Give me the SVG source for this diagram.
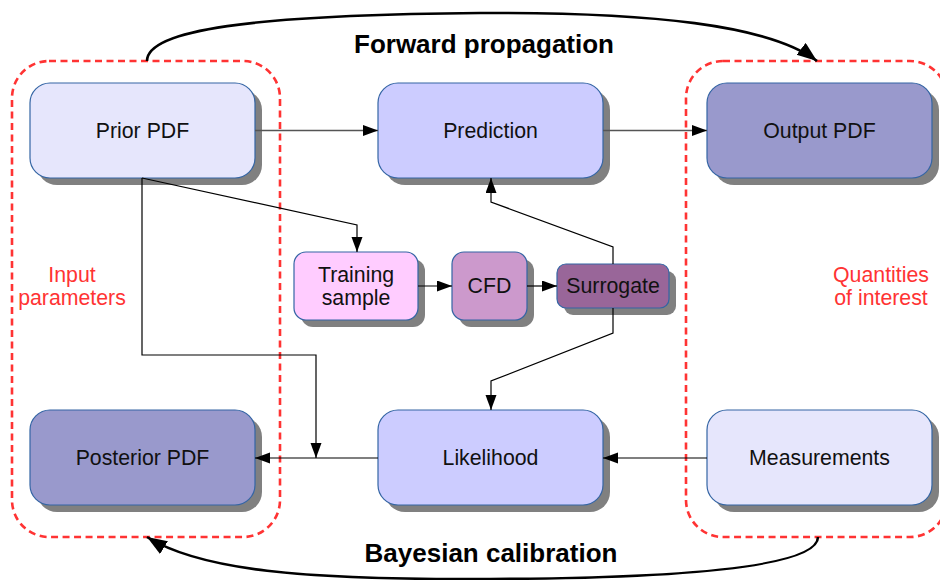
<svg xmlns="http://www.w3.org/2000/svg" width="940" height="580" viewBox="0 0 940 580">
<defs>
<marker id="ah" markerUnits="userSpaceOnUse" markerWidth="16" markerHeight="12" refX="15" refY="5.5" orient="auto">
<path d="M0,0 L15,5.5 L0,11 z" fill="#000"/>
</marker>
<marker id="big" markerUnits="userSpaceOnUse" markerWidth="22" markerHeight="16" refX="20" refY="7.5" orient="auto">
<path d="M0,0 L20,7.5 L0,15 z" fill="#000"/>
</marker>
</defs>
<style>
.box{stroke:#3465a4;stroke-width:1.2}
.sh{fill:#808080}
.t{font-family:"Liberation Sans",Arial,sans-serif;font-size:21.3px;fill:#111;text-anchor:middle}
.r{font-family:"Liberation Sans",Arial,sans-serif;font-size:21.3px;fill:#ff3333;text-anchor:middle}
.h{font-family:"Liberation Sans",Arial,sans-serif;font-size:26px;font-weight:bold;fill:#000;text-anchor:middle}
.dash{fill:none;stroke:#ff3333;stroke-width:2.6;stroke-dasharray:7 4.5}
.c{fill:none;stroke:#000;stroke-width:1.2}
.g{fill:none;stroke:#555;stroke-width:1.6}
.arc{fill:none;stroke:#000;stroke-width:2.6}
</style>
<g id="groups">
<rect class="dash" x="12" y="61" width="268" height="476" rx="37"/>
<rect class="dash" x="686" y="61" width="261" height="476" rx="37"/>
<text class="r" x="72" y="282">Input</text>
<text class="r" x="72" y="305">parameters</text>
<text class="r" x="881" y="282">Quantities</text>
<text class="r" x="881" y="305">of interest</text>
</g>
<g id="prior">
<rect class="sh" x="37" y="90" width="225" height="95" rx="20"/>
<rect class="box" x="30" y="83" width="225" height="95" rx="20" fill="#e6e6fc"/>
<text class="t" x="142.5" y="138">Prior PDF</text>
</g>
<g id="prediction">
<rect class="sh" x="385" y="90" width="225" height="95" rx="20"/>
<rect class="box" x="378" y="83" width="225" height="95" rx="20" fill="#ccccff"/>
<text class="t" x="490.5" y="138">Prediction</text>
</g>
<g id="output">
<rect class="sh" x="714" y="90" width="225" height="95" rx="20"/>
<rect class="box" x="707" y="83" width="225" height="95" rx="20" fill="#9999cc"/>
<text class="t" x="819.5" y="138">Output PDF</text>
</g>
<g id="training">
<rect class="sh" x="301" y="259" width="124" height="68" rx="12"/>
<rect class="box" x="294" y="252" width="124" height="68" rx="12" fill="#ffccff"/>
<text class="t" x="356" y="282">Training</text>
<text class="t" x="356" y="305">sample</text>
</g>
<g id="cfd">
<rect class="sh" x="459" y="259" width="75" height="68" rx="12"/>
<rect class="box" x="452" y="252" width="75" height="68" rx="12" fill="#cc99cc"/>
<text class="t" x="489.5" y="293">CFD</text>
</g>
<g id="surrogate">
<rect class="sh" x="564" y="271" width="112" height="44" rx="9"/>
<rect class="box" x="557" y="264" width="112" height="44" rx="9" fill="#996699"/>
<text class="t" x="613" y="293">Surrogate</text>
</g>
<g id="posterior">
<rect class="sh" x="37" y="417" width="225" height="95" rx="20"/>
<rect class="box" x="30" y="410" width="225" height="95" rx="20" fill="#9999cc"/>
<text class="t" x="142.5" y="465">Posterior PDF</text>
</g>
<g id="likelihood">
<rect class="sh" x="385" y="417" width="225" height="95" rx="20"/>
<rect class="box" x="378" y="410" width="225" height="95" rx="20" fill="#ccccff"/>
<text class="t" x="490.5" y="465">Likelihood</text>
</g>
<g id="measurements">
<rect class="sh" x="714" y="417" width="225" height="95" rx="20"/>
<rect class="box" x="707" y="410" width="225" height="95" rx="20" fill="#e6e6fc"/>
<text class="t" x="819.5" y="465">Measurements</text>
</g>
<g id="connectors">
<line class="g" x1="255" y1="130.5" x2="378" y2="130.5" marker-end="url(#ah)"/>
<line class="g" x1="603" y1="130.5" x2="707" y2="130.5" marker-end="url(#ah)"/>
<polyline class="c" points="142,178 357,225 357,252" marker-end="url(#ah)"/>
<polyline class="c" points="142,178 142,355 316,355 316,458" marker-end="url(#ah)"/>
<line class="c" x1="418" y1="286" x2="452" y2="286" marker-end="url(#ah)"/>
<line class="c" x1="527" y1="286" x2="557" y2="286" marker-end="url(#ah)"/>
<polyline class="c" points="613,264 613,247 491,202 491,178" marker-end="url(#ah)"/>
<polyline class="c" points="613,308 613,333 491,381 491,410" marker-end="url(#ah)"/>
<line class="c" x1="707" y1="458" x2="603" y2="458" marker-end="url(#ah)"/>
<line class="c" x1="378" y1="458" x2="255" y2="458" marker-end="url(#ah)"/>
<path class="arc" d="M147,61 C147,30 250,15 480,13 C650,12 770,25 817,61" marker-end="url(#big)"/>
<path class="arc" d="M818,537 C818,565 700,578 490,579 C300,580 200,570 147,537" marker-end="url(#big)"/>
</g>
<text class="h" x="484" y="53">Forward propagation</text>
<text class="h" x="491" y="562">Bayesian calibration</text>
</svg>
